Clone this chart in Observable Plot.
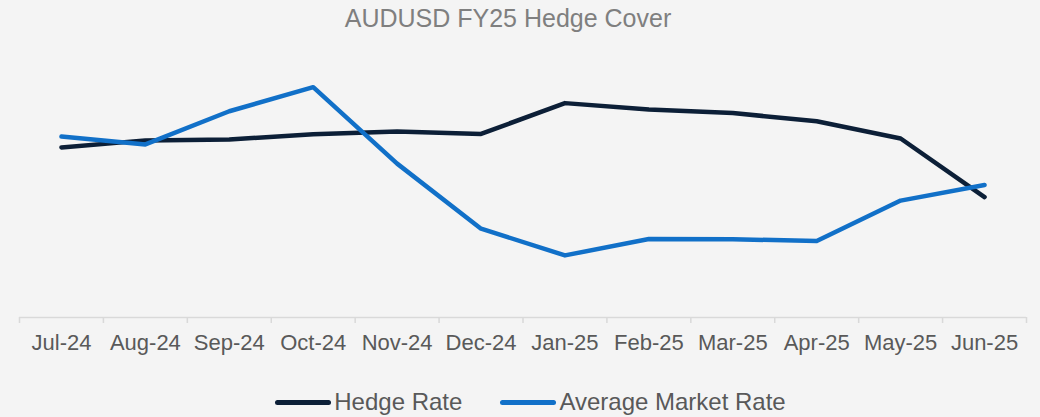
<!DOCTYPE html>
<html>
<head>
<meta charset="utf-8">
<script src="https://cdn.jsdelivr.net/npm/d3@7"></script>
<script src="https://cdn.jsdelivr.net/npm/@observablehq/plot@0.6"></script>
<style>
  html, body { margin: 0; padding: 0; background: #f4f4f4; }
  body { width: 1040px; height: 417px; overflow: hidden; font-family: "Liberation Sans", Arial, sans-serif; }
  #title { box-sizing: border-box; width: 1040px; padding-top: 3px; padding-right: 24px; height: 33px; line-height: 30px; font-size: 25px; color: #7f7f7f; text-align: center; }
  #legend { box-sizing: border-box; width: 1040px; padding-top: 24px; padding-left: 21px; display: flex; justify-content: center; align-items: center; font-size: 24px; line-height: 30px; color: #595959; }
  .item { display: flex; align-items: center; }
  .sw { display: inline-block; width: 56px; height: 5px; border-radius: 3px; margin-right: 3px; position: relative; top: 0px; }
  .gap { width: 38px; }
</style>
</head>
<body>
<div id="title">AUDUSD FY25 Hedge Cover</div>
<div id="chart"></div>
<div id="legend"></div>
<script>
const months = ["Jul-24", "Aug-24", "Sep-24", "Oct-24", "Nov-24", "Dec-24", "Jan-25", "Feb-25", "Mar-25", "Apr-25", "May-25", "Jun-25"];
const hedgeRate = [0.6630, 0.6656, 0.6659, 0.6679, 0.6689, 0.6680, 0.6794, 0.6770, 0.6757, 0.6727, 0.6663, 0.6446];
const marketRate = [0.6670, 0.6641, 0.6764, 0.6853, 0.6570, 0.6329, 0.6230, 0.6291, 0.6290, 0.6283, 0.6433, 0.6491];
const seriesNames = ["Hedge Rate", "Average Market Rate"];
const seriesColors = ["#0c1f37", "#1170c8"];
const yDomain = [0.60, 0.70];

const hedgeData = months.map((m, i) => ({i, month: m, value: hedgeRate[i]}));
const marketData = months.map((m, i) => ({i, month: m, value: marketRate[i]}));
const labelTicks = months.map((m, i) => i);
const boundaryTicks = d3.range(months.length + 1).map(k => k - 0.5);

const chart = Plot.plot({
  width: 1040,
  height: 330,
  marginLeft: 19,
  marginRight: 14,
  marginTop: 14,
  marginBottom: 46,
  style: { background: "transparent", fontFamily: "'Liberation Sans', Arial, sans-serif" },
  x: { type: "linear", domain: [-0.5, months.length - 0.5], nice: false, axis: null, label: null },
  y: { domain: yDomain, nice: false, axis: null, label: null },
  marks: [
    Plot.ruleY([yDomain[0]], { stroke: "#d9d9d9", strokeWidth: 1.5 }),
    Plot.axisX({ ticks: boundaryTicks, tickSize: 6, tickFormat: () => "", label: null, stroke: "#d9d9d9", strokeWidth: 1.5 }),
    Plot.axisX({ ticks: labelTicks, tickSize: 0, tickPadding: 17, tickFormat: i => months[i], label: null, fontSize: 22, fill: "#595959" }),
    Plot.line(hedgeData, { x: "i", y: "value", stroke: seriesColors[0], strokeWidth: 4.5, strokeLinecap: "round", strokeLinejoin: "round" }),
    Plot.line(marketData, { x: "i", y: "value", stroke: seriesColors[1], strokeWidth: 4.5, strokeLinecap: "round", strokeLinejoin: "round" })
  ]
});
document.getElementById("chart").appendChild(chart);

const legend = document.getElementById("legend");
seriesNames.forEach((name, k) => {
  if (k > 0) { const g = document.createElement("span"); g.className = "gap"; legend.appendChild(g); }
  const item = document.createElement("span");
  item.className = "item";
  const sw = document.createElement("span");
  sw.className = "sw";
  sw.style.background = seriesColors[k];
  const t = document.createElement("span");
  t.textContent = name;
  item.appendChild(sw);
  item.appendChild(t);
  legend.appendChild(item);
});
</script>
</body>
</html>
